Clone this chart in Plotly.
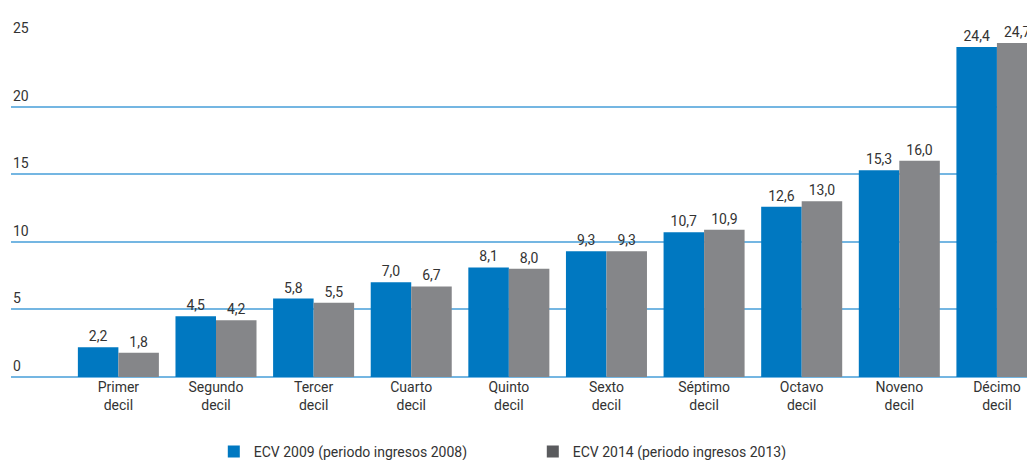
import plotly.graph_objects as go

deciles = ['Primer<br>decil', 'Segundo<br>decil', 'Tercer<br>decil', 'Cuarto<br>decil', 'Quinto<br>decil',
           'Sexto<br>decil', 'Séptimo<br>decil', 'Octavo<br>decil', 'Noveno<br>decil', 'Décimo<br>decil']
ecv_2009 = [2.2, 4.5, 5.8, 7.0, 8.1, 9.3, 10.7, 12.6, 15.3, 24.4]
ecv_2014 = [1.8, 4.2, 5.5, 6.7, 8.0, 9.3, 10.9, 13.0, 16.0, 24.7]
y_ticks = [0, 5, 10, 15, 20, 25]
series_names = ['ECV 2009 (periodo ingresos 2008)', 'ECV 2014 (periodo ingresos 2013)']

FONT = "Roboto, Liberation Sans, sans-serif"
TXT = '#333333'

fig = go.Figure()

fig.add_bar(x=deciles, y=ecv_2009, name=series_names[0], showlegend=False,
            marker=dict(color="#0078c1", line=dict(width=0)),
            texttemplate='%{y:.1f}', textposition='outside', cliponaxis=False,
            textfont=dict(size=14, color=TXT))
fig.add_bar(x=deciles, y=ecv_2014, name=series_names[1], showlegend=False,
            marker=dict(color="#858689", line=dict(width=0)),
            texttemplate='%{y:.1f}', textposition='outside', cliponaxis=False,
            textfont=dict(size=14, color=TXT))

# legend swatches (the legend grey is darker than the bars)
fig.add_scatter(x=[None], y=[None], mode='markers', name=series_names[0],
                marker=dict(symbol='square', size=12, color='#0078c1'))
fig.add_scatter(x=[None], y=[None], mode='markers', name=series_names[1],
                marker=dict(symbol='square', size=12, color='#5a5b5e'))

# y tick labels sit above the grid lines, on the left
for t in y_ticks:
    fig.add_annotation(x=0, xref='paper', y=t, yref='y', text=str(t), showarrow=False,
                       xanchor='left', yanchor='bottom', yshift=1,
                       font=dict(family=FONT, size=14, color=TXT))

# page body has an 8px margin, so the figure is a bit smaller than the window
fig.update_layout(
    width=1027, height=452,
    margin=dict(l=3, r=0, t=31, b=83, autoexpand=False),
    paper_bgcolor='white', plot_bgcolor='white',
    separators=',.',
    barmode='group', bargap=0.17, bargroupgap=0,
    font=dict(family=FONT, size=14, color=TXT),
    uniformtext=dict(minsize=14, mode='show'),
    showlegend=True,
    legend=dict(orientation='h', x=0.511, xanchor='center', xref='container',
                y=0.018, yanchor='middle', yref='container',
                entrywidth=274, entrywidthmode='pixels', itemsizing='constant',
                font=dict(family=FONT, size=14, color=TXT)),
)
fig.update_xaxes(range=[-1.1, 9.39], showgrid=False, showline=False, ticks='', automargin=False,
                 tickfont=dict(family=FONT, size=14, color=TXT))
fig.update_yaxes(range=[0, 25], tickvals=y_ticks, showticklabels=False, automargin=False,
                 showgrid=True, gridcolor='#74b6e2', gridwidth=2,
                 zeroline=True, zerolinecolor='#74b6e2', zerolinewidth=2)

fig.write_html("out.html")
